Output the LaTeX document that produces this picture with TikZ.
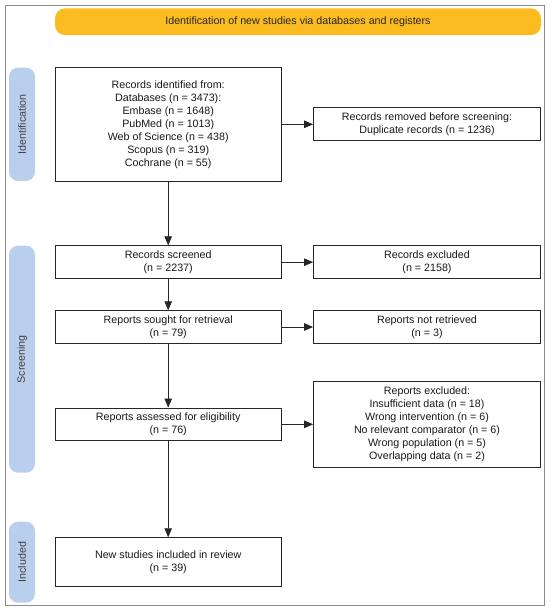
\documentclass[tikz,border=0pt]{standalone}
\usepackage{fontspec}
\setmainfont{Liberation Sans}
\usetikzlibrary{arrows.meta}
\definecolor{bannerc}{HTML}{FBBC22}
\definecolor{sidec}{HTML}{BACFEE}
\definecolor{framec}{HTML}{8C8C8C}
\newcommand{\fsz}{\fontsize{10.7}{13}\selectfont}
\tikzset{
  box/.style={draw=black!85, line width=0.8pt, fill=white, align=center, inner sep=0pt, font=\fsz, text=black!90},
  sidelbl/.style={fill=sidec, rounded corners=9pt, minimum width=26pt, inner sep=0pt},
  sidetxt/.style={rotate=90, font=\fsz, text=black!75},
  arr/.style={draw=black!85, line width=0.8pt, -{Triangle[length=9pt,width=7.5pt]}}
}
\begin{document}
\begin{tikzpicture}[x=1pt,y=-1pt]
\useasboundingbox (0,0) rectangle (550,611);
\fill[white] (0,0) rectangle (550,611);
\draw[framec, line width=0.9pt] (5.7,5.7) rectangle (544.3,605.3);
% banner
\node[fill=bannerc, rounded corners=10pt, minimum width=486pt, minimum height=26.7pt, inner sep=0pt, font=\fsz, text=black!85] (banner) at (298,21.7) {Identification of new studies via databases and registers};
% side labels
\node[sidelbl, minimum height=113.3pt] (sid) at (22,124.3) {};
\node[sidetxt] (sidt) at (sid.center) {Identification};
\node[sidelbl, minimum height=227pt] (sscr) at (22,359.2) {};
\node[sidetxt] (sscrt) at (sscr.center) {Screening};
\node[sidelbl, minimum height=81pt] (sinc) at (22,562.2) {};
\node[sidetxt] (sinct) at (sinc.center) {Included};
% left boxes
\node[box, minimum width=226.3pt, minimum height=113.3pt] (ident) at (168.2,124.3) {Records identified from:\\Databases (n = 3473):\\Embase (n = 1648)\\PubMed (n = 1013)\\Web of Science (n = 438)\\Scopus (n = 319)\\Cochrane (n = 55)};
\node[box, minimum width=226.3pt, minimum height=33pt] (screen) at (168.2,262.2) {Records screened\\(n = 2237)};
\node[box, minimum width=226.3pt, minimum height=32.6pt] (sought) at (168.2,327) {Reports sought for retrieval\\(n = 79)};
\node[box, minimum width=226.3pt, minimum height=32.7pt] (assess) at (168.2,424.3) {Reports assessed for eligibility\\(n = 76)};
\node[box, minimum width=226.3pt, minimum height=48.3pt] (incl) at (168.2,561.8) {New studies included in review\\(n = 39)};
% right boxes
\node[box, minimum width=227pt, minimum height=33pt] (removed) at (427,124.3) {Records removed before screening:\\Duplicate records (n = 1236)};
\node[box, minimum width=227pt, minimum height=33pt] (excl) at (427,262.2) {Records excluded\\(n = 2158)};
\node[box, minimum width=227pt, minimum height=32.6pt] (notret) at (427,327) {Reports not retrieved\\(n = 3)};
\node[box, minimum width=227pt, minimum height=85.6pt] (repexcl) at (427,424.5) {Reports excluded:\\Insufficient data (n = 18)\\Wrong intervention (n = 6)\\No relevant comparator (n = 6)\\Wrong population (n = 5)\\Overlapping data (n = 2)};
% arrows
\draw[arr] (ident) -- (screen);
\draw[arr] (screen) -- (sought);
\draw[arr] (sought) -- (assess);
\draw[arr] (assess) -- (incl);
\draw[arr] (ident) -- (removed);
\draw[arr] (screen) -- (excl);
\draw[arr] (sought) -- (notret);
\draw[arr] (assess.east) -- (assess.east -| repexcl.west);
\end{tikzpicture}
\end{document}
